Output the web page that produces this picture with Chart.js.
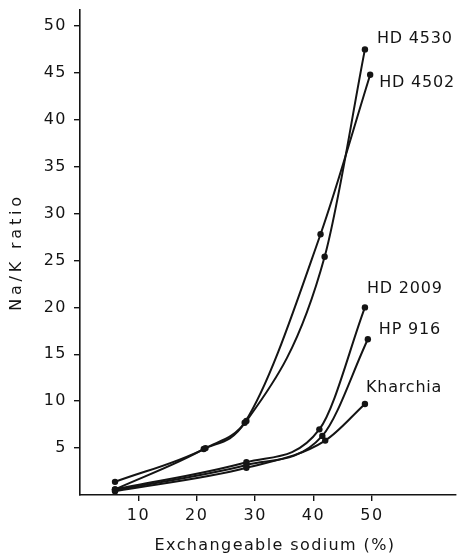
<!DOCTYPE html>
<html>
<head>
<meta charset="utf-8">
<script src="https://cdn.jsdelivr.net/npm/chart.js@4.4.1/dist/chart.umd.min.js"></script>
<style>
  html, body { margin: 0; padding: 0; background: #fff; }
  #wrap { position: relative; width: 460px; height: 556px; }
</style>
</head>
<body>
<div id="wrap"><canvas id="naK"></canvas></div>
<script>
// exchangeable sodium (%) vs Na/K ratio, one curve per wheat variety
const seriesNames = ["HD 4530", "HD 4502", "HD 2009", "HP 916", "Kharchia"];

const sodiumHD4530 = [6, 21.5, 28.5, 41.9, 48.8];
const ratioHD4530  = [0.6, 5.0, 7.9, 25.4, 47.5];

const sodiumHD4502 = [6, 21.2, 28.2, 41.2, 49.7];
const ratioHD4502  = [1.4, 4.9, 7.7, 27.8, 44.8];

const sodiumHD2009 = [6, 28.5, 41.0, 48.8];
const ratioHD2009  = [0.6, 3.5, 7.0, 20.0];

const sodiumHP916 = [6, 28.5, 41.5, 49.3];
const ratioHP916  = [0.5, 3.2, 6.3, 16.6];

const sodiumKharchia = [6, 28.5, 42.0, 48.8];
const ratioKharchia  = [0.4, 2.9, 5.8, 9.7];

const xTicks = [10, 20, 30, 40, 50];
const yTicks = [5, 10, 15, 20, 25, 30, 35, 40, 45, 50];

const sodiumAll = [sodiumHD4530, sodiumHD4502, sodiumHD2009, sodiumHP916, sodiumKharchia];
const ratioAll  = [ratioHD4530, ratioHD4502, ratioHD2009, ratioHP916, ratioKharchia];

// where each variety name sits relative to the curve's last point
const labelDx = [12, 9, 2, 11, 1];
const labelDy = [-11, 8, -19, -9, -16];

const FONT = "'DejaVu Sans', sans-serif";
const INK = "#141414";

const pairs = (xs, ys) => xs.map((x, i) => ({ x, y: ys[i] }));

const datasets = seriesNames.map((name, i) => ({
  label: name,
  data: pairs(sodiumAll[i], ratioAll[i]),
  borderColor: INK,
  backgroundColor: INK,
  borderWidth: 2,
  pointRadius: 3.2,
  pointBackgroundColor: INK,
  pointBorderWidth: 0,
  cubicInterpolationMode: "monotone",
}));

const spacing = {
  id: "spacing",
  beforeDraw(chart) {
    chart.ctx.letterSpacing = "1.5px";
  },
};

const curveLabels = {
  id: "curveLabels",
  afterDatasetsDraw(chart) {
    const ctx = chart.ctx;
    ctx.save();
    ctx.font = "16px " + FONT;
    ctx.letterSpacing = "0.8px";
    ctx.fillStyle = INK;
    ctx.textAlign = "left";
    ctx.textBaseline = "middle";
    chart.data.datasets.forEach((ds, i) => {
      const pts = chart.getDatasetMeta(i).data;
      const last = pts[pts.length - 1];
      ctx.fillText(ds.label, last.x + labelDx[i], last.y + labelDy[i]);
    });
    ctx.restore();
  },
};

const axisTitles = {
  id: "axisTitles",
  afterDraw(chart) {
    const ctx = chart.ctx;
    const area = chart.chartArea;
    ctx.save();
    ctx.fillStyle = INK;
    ctx.textAlign = "center";
    ctx.textBaseline = "middle";

    ctx.font = "16px " + FONT;
    ctx.letterSpacing = "1.4px";
    ctx.fillText("Exchangeable sodium (%)", area.left + 195, area.bottom + 51);

    ctx.translate(17, 252);
    ctx.rotate(-Math.PI / 2);
    ctx.letterSpacing = "3.8px";
    ctx.fillText("Na/K ratio", 0, 0);
    ctx.restore();
  },
};

// keep the plot box fixed: no extra room reserved for edge tick labels
const noEdgePad = (scale) => {
  scale.paddingTop = 0;
  scale.paddingBottom = 0;
  scale.paddingLeft = 0;
  scale.paddingRight = 0;
};

new Chart(document.getElementById("naK").getContext("2d"), {
  type: "line",
  data: { datasets },
  options: {
    responsive: true,
    maintainAspectRatio: false,
    animation: false,
    layout: { padding: { top: 10, right: 0, left: 0, bottom: 0 } },
    plugins: {
      legend: { display: false },
      tooltip: { enabled: false },
    },
    scales: {
      x: {
        type: "linear",
        min: 0,
        max: 64.4,
        afterBuildTicks: (scale) => { scale.ticks = xTicks.map((v) => ({ value: v })); },
        afterFit: (scale) => { scale.height = 61; noEdgePad(scale); },
        border: { display: true, color: INK, width: 1.6 },
        grid: { drawOnChartArea: false, drawTicks: true, tickLength: 6, color: INK, lineWidth: 1.4 },
        ticks: { color: INK, font: { family: FONT, size: 16 }, padding: 5, maxRotation: 0 },
      },
      y: {
        type: "linear",
        min: 0,
        max: 51.7,
        afterBuildTicks: (scale) => { scale.ticks = yTicks.map((v) => ({ value: v })); },
        afterFit: (scale) => { scale.width = 80; noEdgePad(scale); },
        border: { display: true, color: INK, width: 1.6 },
        grid: { drawOnChartArea: false, drawTicks: true, tickLength: 6, color: INK, lineWidth: 1.4 },
        ticks: { color: INK, font: { family: FONT, size: 16 }, padding: 7 },
      },
    },
  },
  plugins: [spacing, curveLabels, axisTitles],
});
</script>
</body>
</html>
